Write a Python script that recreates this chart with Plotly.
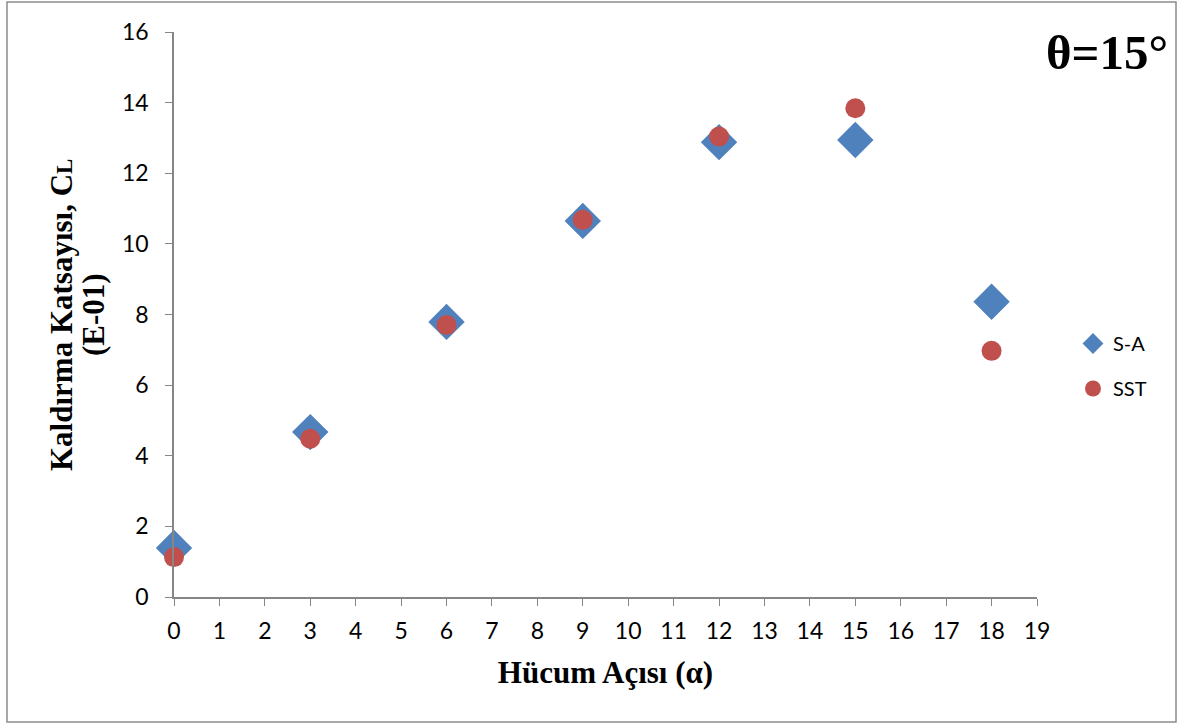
import plotly.graph_objects as go

angles = [0, 3, 6, 9, 12, 15, 18]
sa_values = [1.39, 4.67, 7.79, 10.65, 12.88, 12.94, 8.36]
sst_values = [1.13, 4.48, 7.70, 10.68, 13.04, 13.84, 6.97]
x_ticks = list(range(0, 20))
y_ticks = list(range(0, 17, 2))

W, H = 1179, 724
L, R, T, B = 174, 1037, 32, 597

fig = go.Figure()
fig.add_trace(go.Scatter(x=angles, y=sa_values, mode="markers", name="S-A",
                         legendgroup="a", cliponaxis=False,
                         marker=dict(symbol="diamond", size=28, color="#4F81BD")))
fig.add_trace(go.Scatter(x=angles, y=sst_values, mode="markers", name="SST",
                         legendgroup="b", cliponaxis=False,
                         marker=dict(symbol="circle", size=20, color="#C0504D")))

axis_col = "#868686"
tick_font = dict(family="Lato, Carlito, sans-serif", size=23, color="#000")
fig.update_xaxes(range=[0, 19], tickvals=x_ticks, showline=True, linecolor=axis_col,
                 linewidth=1.5, ticks="outside", ticklen=7, tickcolor=axis_col,
                 showgrid=False, zeroline=False, tickfont=tick_font,
                 ticklabelstandoff=6,
                 title=dict(text="<b>Hücum Açısı (α)</b>",
                            font=dict(family="Liberation Serif", size=31, color="#000"),
                            standoff=18))
fig.update_yaxes(range=[0, 16], tickvals=y_ticks, showline=True, linecolor=axis_col,
                 linewidth=1.5, ticks="outside", ticklen=7, tickcolor=axis_col,
                 showgrid=False, zeroline=False, tickfont=tick_font,
                 ticklabelstandoff=12)

pw, ph = R - L, B - T
def px(xp):
    return (xp - L) / pw
def py(yp):
    return (B - yp) / ph

fig.add_shape(type="rect", xref="paper", yref="paper",
              x0=px(7), x1=px(1176), y0=py(722), y1=py(2),
              line=dict(color="#8c8c8c", width=1.5), fillcolor="rgba(0,0,0,0)", layer="below")

ytitle_font = dict(family="Liberation Serif", size=31, color="#000")
fig.add_annotation(text="<b>Kaldırma Katsayısı, C<span style='font-size:23px'>L</span></b>",
                   xref="paper", yref="paper", x=px(61), y=py(315),
                   xanchor="center", yanchor="middle", textangle=-90,
                   showarrow=False, font=ytitle_font)
fig.add_annotation(text="<b>(E-01)</b>",
                   xref="paper", yref="paper", x=px(93), y=py(315),
                   xanchor="center", yanchor="middle", textangle=-90,
                   showarrow=False, font=ytitle_font)

fig.add_annotation(text="<b>θ=15°</b>", xref="paper", yref="paper",
                   x=px(1170), y=py(52), xanchor="right", yanchor="middle",
                   showarrow=False,
                   font=dict(family="Liberation Serif", size=49, color="#000"))

fig.update_layout(width=W, height=H, margin=dict(l=L, r=W - R, t=T, b=H - B),
                  paper_bgcolor="white", plot_bgcolor="white",
                  showlegend=True,
                  legend=dict(x=px(1073), y=py(324), xanchor="left", yanchor="top",
                              traceorder="grouped", tracegroupgap=16,
                              font=dict(family="Lato, Carlito, sans-serif", size=20, color="#000"),
                              itemsizing="trace"))

fig.write_html("out.html", config={"displayModeBar": False},
               post_script="document.body.style.margin='0px';")
